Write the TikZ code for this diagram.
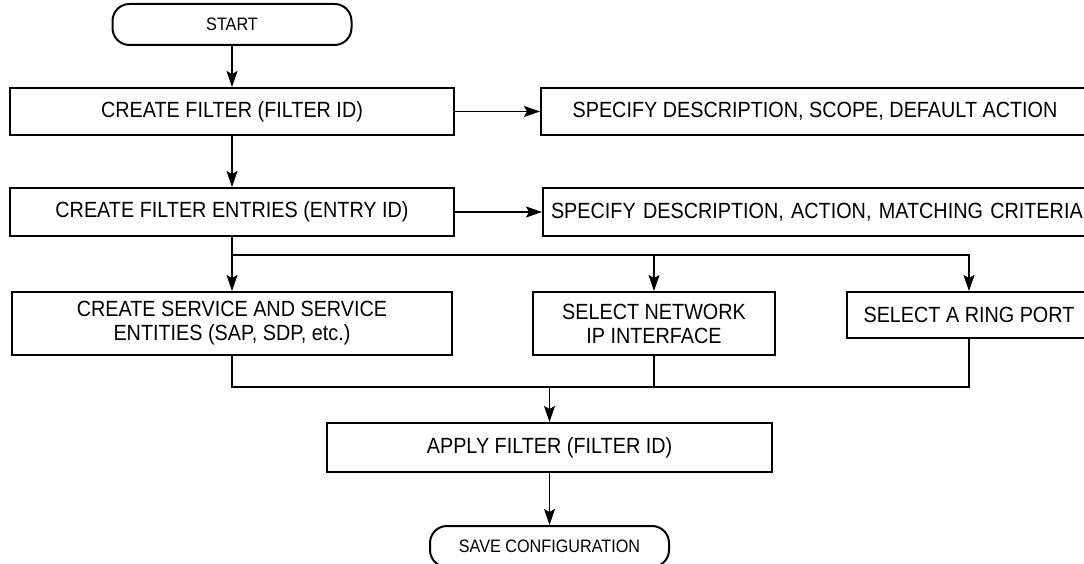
\documentclass[tikz,border=0pt]{standalone}
\usepackage{fontspec}
\setmainfont{Liberation Sans}
\newfontfamily\narrowsans[FakeStretch=0.9]{Liberation Sans}
\usetikzlibrary{arrows.meta}
\begin{document}
\begin{tikzpicture}[x=1pt,y=-1pt,
  box/.style={draw, line width=2pt, rectangle, inner sep=0pt, align=center, font=\narrowsans\fontsize{22}{24}\selectfont},
  term/.style={draw, line width=2pt, rounded corners=17pt, inner sep=0pt, font=\narrowsans\fontsize{18}{20}\selectfont},
  conn/.style={line width=1.4pt, -{Stealth[length=16pt,width=11pt,inset=3pt]}},
  plain/.style={line width=1.4pt}]
\useasboundingbox (0,0) rectangle (1084,564);
\clip (0,0) rectangle (1084,564);
\node[term, minimum width=239pt, minimum height=41pt] (start) at (232,24.5) {START};
\node[box, minimum width=444pt, minimum height=47pt] (filter) at (232,111.5) {CREATE FILTER (FILTER ID)};
\node[box, minimum width=548pt, minimum height=47pt] (spec1) at (815,111.5) {SPECIFY DESCRIPTION, SCOPE, DEFAULT ACTION};
\node[box, minimum width=444pt, minimum height=48pt] (entries) at (232,212) {CREATE FILTER ENTRIES (ENTRY ID)};
\node[box, anchor=west, minimum height=48pt, text width=554pt, inner xsep=8pt, align=left] (spec2) at (542,212) {SPECIFY DESCRIPTION, ACTION, MATCHING CRITERIA};
\node[box, minimum width=440pt, minimum height=63pt] (service) at (232,323.5) {CREATE SERVICE AND SERVICE\\ENTITIES (SAP, SDP, etc.)};
\node[box, minimum width=242pt, minimum height=63pt] (network) at (654,323.5) {SELECT NETWORK\\IP INTERFACE};
\node[box, minimum width=244pt, minimum height=46pt] (ring) at (969,315) {SELECT A RING PORT};
\node[box, minimum width=445pt, minimum height=49pt] (apply) at (549.5,447.5) {APPLY FILTER (FILTER ID)};
\node[term, minimum width=239pt, minimum height=41pt] (save) at (549.5,546.5) {SAVE CONFIGURATION};
\coordinate (br) at (232,255);
\coordinate (mg) at (549.5,387);
\draw[conn] (start.south) -- (filter.north);
\draw[conn] (filter.east) -- (spec1.west);
\draw[conn] (filter.south) -- (entries.north);
\draw[conn] (entries.east) -- (spec2.west);
\draw[conn] (entries.south) -- (service.north);
\draw[conn] (br) -| (network.north);
\draw[conn] (br) -| (ring.north);
\draw[plain] (service.south) -- (service.south |- mg) -- (ring.south |- mg) -- (ring.south);
\draw[plain] (network.south) -- (network.south |- mg);
\draw[conn] (apply.north |- mg) -- (apply.north);
\draw[conn] (apply.south) -- (save.north);
\end{tikzpicture}
\end{document}
